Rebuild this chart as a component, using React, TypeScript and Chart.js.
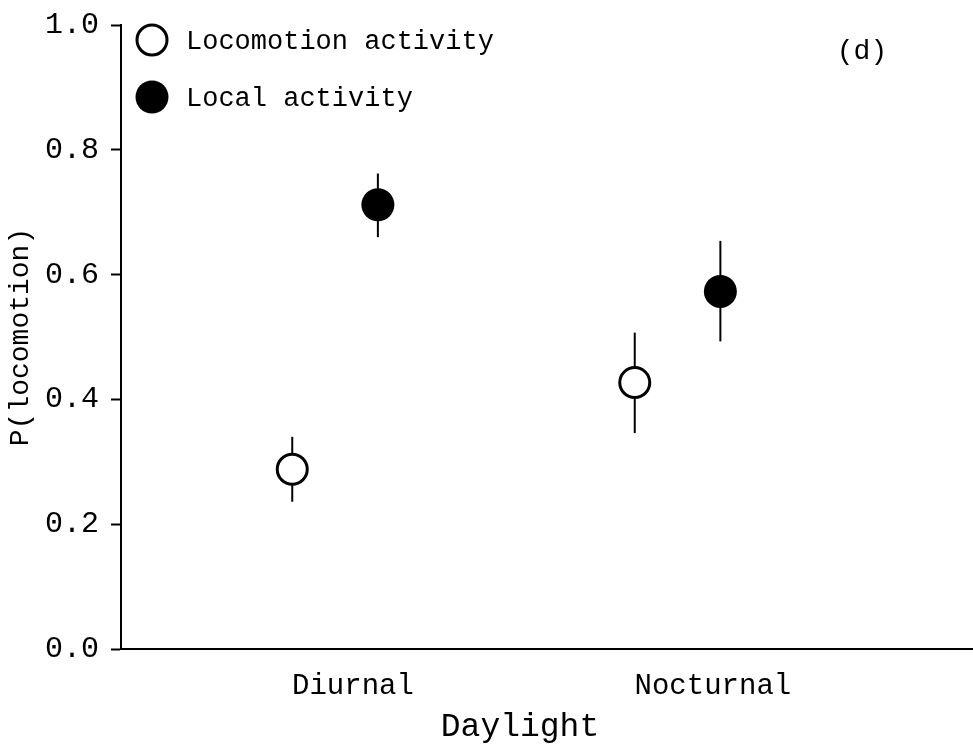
import { useEffect, useRef } from 'react';
import { Chart, registerables } from 'chart.js';

Chart.register(...registerables);

// Daylight categories and the two activity series (mean with lower/upper interval)
const CATEGORIES = ['Diurnal', 'Nocturnal'];
const SERIES_NAMES = ['Locomotion activity', 'Local activity'];
const LOCOMOTION_MEAN = [0.288, 0.427];
const LOCOMOTION_LOW = [0.236, 0.346];
const LOCOMOTION_HIGH = [0.34, 0.507];
const LOCAL_MEAN = [0.712, 0.573];
const LOCAL_LOW = [0.66, 0.493];
const LOCAL_HIGH = [0.762, 0.654];
const Y_TICKS = [0, 0.2, 0.4, 0.6, 0.8, 1.0];
const PANEL_LABEL = '(d)';
const X_TITLE = 'Daylight';
const Y_TITLE = 'P(locomotion)';

const FONT = "'Nimbus Mono PS', 'Courier New', 'Liberation Mono', monospace";
const DODGE = 0.125;

const catPos = (i: number) => i + 1;

const errorBarsPlugin = {
  id: 'errorBars',
  beforeDatasetsDraw(chart: any) {
    const { ctx } = chart;
    const yScale = chart.scales.y;
    const ranges = [
      [LOCOMOTION_LOW, LOCOMOTION_HIGH],
      [LOCAL_LOW, LOCAL_HIGH],
    ];
    ctx.save();
    ctx.strokeStyle = '#000';
    ctx.lineWidth = 2;
    ranges.forEach(([low, high], d) => {
      const meta = chart.getDatasetMeta(d);
      meta.data.forEach((pt: any, i: number) => {
        ctx.beginPath();
        ctx.moveTo(pt.x, yScale.getPixelForValue(low[i]));
        ctx.lineTo(pt.x, yScale.getPixelForValue(high[i]));
        ctx.stroke();
      });
    });
    ctx.restore();
  },
};

const decorPlugin = {
  id: 'decor',
  afterDraw(chart: any) {
    const { ctx, chartArea } = chart;
    const { left, top, bottom } = chartArea;
    ctx.save();
    // legend
    chart.data.datasets.forEach((ds: any, d: number) => {
      const cx = left + 31;
      const cy = top + 15 + d * 57;
      ctx.beginPath();
      ctx.arc(cx, cy, ds.pointRadius, 0, Math.PI * 2);
      ctx.fillStyle = ds.pointBackgroundColor;
      ctx.fill();
      if (ds.pointBorderWidth > 0) {
        ctx.lineWidth = ds.pointBorderWidth;
        ctx.strokeStyle = ds.pointBorderColor;
        ctx.stroke();
      }
      ctx.fillStyle = '#000';
      ctx.font = `27px ${FONT}`;
      ctx.textAlign = 'left';
      ctx.textBaseline = 'middle';
      ctx.fillText(ds.label, left + 65, cy + 2);
    });
    // panel tag
    ctx.font = `28px ${FONT}`;
    ctx.textAlign = 'center';
    ctx.textBaseline = 'middle';
    ctx.fillText(PANEL_LABEL, 862, top + 27);
    // x axis title
    ctx.font = `33px ${FONT}`;
    ctx.fillText(X_TITLE, 520, bottom + 78);
    ctx.restore();
  },
};

export default function App() {
  const ref = useRef<HTMLCanvasElement | null>(null);

  useEffect(() => {
    document.body.style.margin = '0';
    const canvas = ref.current;
    if (!canvas) return;
    const chart = new Chart(canvas, {
      type: 'scatter',
      data: {
        datasets: [
          {
            label: SERIES_NAMES[0],
            data: LOCOMOTION_MEAN.map((y, i) => ({ x: catPos(i) - DODGE, y })),
            pointRadius: 15,
            pointBorderWidth: 3,
            pointBackgroundColor: '#fff',
            pointBorderColor: '#000',
            pointHoverRadius: 15,
          },
          {
            label: SERIES_NAMES[1],
            data: LOCAL_MEAN.map((y, i) => ({ x: catPos(i) + DODGE, y })),
            pointRadius: 16.5,
            pointBorderWidth: 0,
            pointBackgroundColor: '#000',
            pointBorderColor: '#000',
            pointHoverRadius: 16.5,
          },
        ],
      },
      options: {
        animation: false,
        responsive: false,
        devicePixelRatio: 1,
        layout: { autoPadding: false, padding: { top: 25, right: 0, left: 0, bottom: 0 } },
        plugins: {
          legend: { display: false },
          tooltip: { enabled: false },
        },
        scales: {
          x: {
            type: 'linear',
            min: 0.375,
            max: 2.8626,
            afterBuildTicks: (scale: any) => {
              scale.ticks = CATEGORIES.map((_, i) => ({ value: catPos(i) }));
            },
            afterFit: (scale: any) => {
              scale.height = 98;
              scale.paddingLeft = 0;
              scale.paddingRight = 0;
            },
            grid: { display: false },
            border: { display: true, color: '#000', width: 2 },
            ticks: {
              font: { family: FONT, size: 29 },
              color: '#000',
              align: 'start',
              labelOffset: -43,
              padding: 12,
              maxRotation: 0,
              autoSkip: false,
              callback: (v: any) => {
                const idx = CATEGORIES.findIndex((_, i) => catPos(i) === v);
                return idx >= 0 ? CATEGORIES[idx] : '';
              },
            },
          },
          y: {
            type: 'linear',
            min: 0,
            max: 1,
            afterBuildTicks: (scale: any) => {
              scale.ticks = Y_TICKS.map((value) => ({ value }));
            },
            afterFit: (scale: any) => {
              scale.width = 121;
              scale.paddingTop = 0;
              scale.paddingBottom = 0;
            },
            grid: {
              display: true,
              drawOnChartArea: false,
              drawTicks: true,
              tickLength: 10,
              tickWidth: 2,
              tickColor: '#000',
            },
            border: { display: true, color: '#000', width: 2 },
            ticks: {
              font: { family: FONT, size: 30 },
              color: '#000',
              padding: 12,
              callback: (v: any) => Number(v).toFixed(1),
            },
            title: {
              display: true,
              text: Y_TITLE,
              font: { family: FONT, size: 28 },
              color: '#000',
              padding: { top: 4, bottom: 0 },
            },
          },
        },
      },
      plugins: [errorBarsPlugin, decorPlugin],
    });
    return () => chart.destroy();
  }, []);

  return <canvas ref={ref} width={973} height={747} style={{ display: 'block' }} />;
}
